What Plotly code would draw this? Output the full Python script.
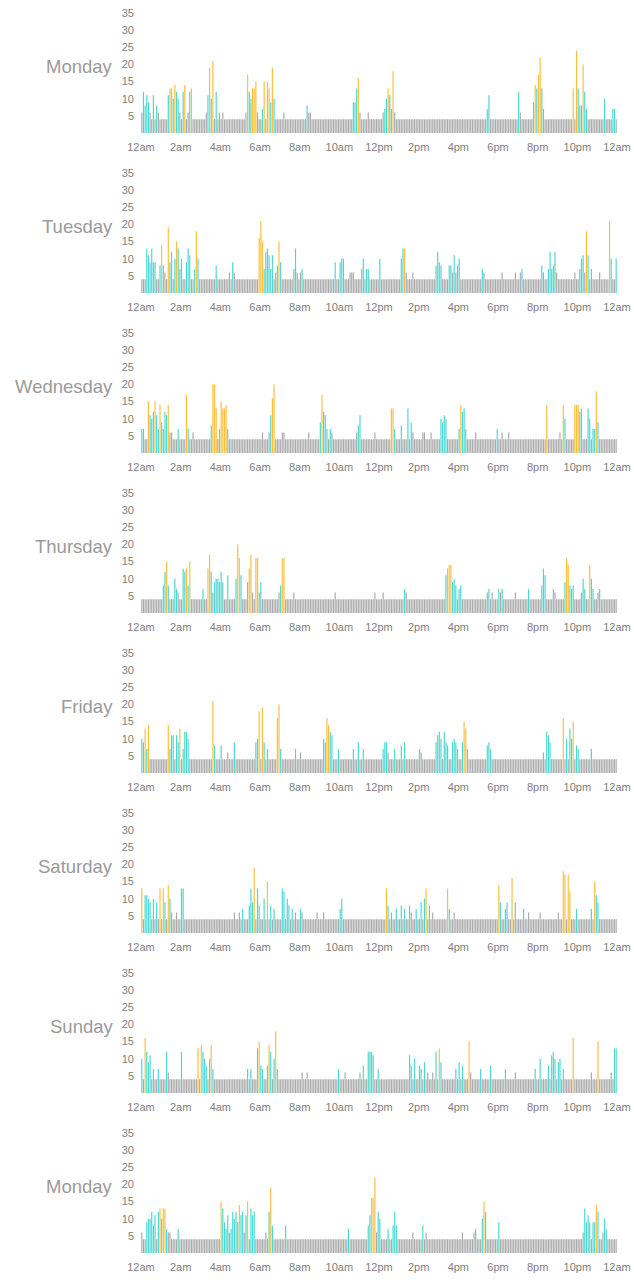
import plotly.graph_objects as go

# ---------------- data ----------------
DAY_NAMES = ["Monday", "Tuesday", "Wednesday", "Thursday", "Friday", "Saturday", "Sunday", "Monday"]
X_TICK_LABELS = ["12am", "2am", "4am", "6am", "8am", "10am", "12pm", "2pm", "4pm", "6pm", "8pm", "10pm", "12am"]
Y_TICKS = [5, 10, 15, 20, 25, 30, 35]
SLOTS_PER_HOUR = 12  # 5-minute slots

# values per 5-minute slot, one row per hour
MON1 = [
    [6,12,8,11,9,6,4,11,4,8,6,4],
    [4,4,4,4,11,13,13,10,14,12,10,6],
    [4,12,14,4,6,12,13,4,4,4,4,4],
    [4,4,4,6,11,19,10,21,4,12,4,6],
    [4,6,4,4,4,4,4,4,4,4,4,4],
    [4,4,4,6,17,12,10,13,13,15,6,4],
    [4,7,15,4,15,13,9,19,10,4,4,4],
    [4,4,6,4,4,4,4,4,4,4,4,4],
    [4,4,4,4,8,6,6,4,4,4,4,4],
    [4,4,4,4,4,4,4,4,4,4,4,4],
    [4,4,4,4,4,4,4,4,9,9,13,16],
    [6,4,4,4,4,6,4,4,4,4,4,4],
    [4,4,6,7,10,13,11,7,18,6,4,4],
    [4,4,4,4,4,4,4,4,4,4,4,4],
    [4,4,4,4,4,4,4,4,4,4,4,4],
    [4,4,4,4,4,4,4,4,4,4,4,4],
    [4,4,4,4,4,4,4,4,4,4,4,4],
    [4,4,4,4,4,7,11,4,4,4,4,4],
    [4,4,4,4,4,4,4,4,4,4,4,4],
    [12,6,4,4,4,4,4,4,4,9,14,13],
    [17,22,13,7,4,4,4,4,4,4,4,4],
    [4,4,4,4,4,4,4,4,4,13,4,24],
    [13,8,8,20,12,7,4,4,4,4,4,4],
    [4,4,4,4,10,4,4,4,4,7,7,4],
]
MON1_HIGH = [17,18,20,26,30,41,43,64,67,68,69,74,76,77,79,131,149,152,238,240,241,261,263,267]

TUE = [
    [4,4,4,13,11,9,13,9,9,4,4,8],
    [14,8,6,4,19,9,12,4,10,15,13,7],
    [10,4,4,9,13,11,4,4,7,18,10,4],
    [4,4,4,4,4,4,4,4,4,8,4,4],
    [4,4,4,4,4,6,4,9,6,4,4,4],
    [4,4,4,4,4,4,4,4,4,4,4,16],
    [21,15,7,12,13,11,7,11,4,6,8,15],
    [9,4,4,4,4,4,4,4,7,13,6,4],
    [6,7,4,4,4,4,4,4,4,4,4,4],
    [4,4,4,4,4,4,4,4,4,9,4,4],
    [9,10,10,4,4,4,6,6,6,4,4,4],
    [4,7,10,4,7,7,4,4,4,4,4,4],
    [10,4,4,4,4,4,4,4,4,4,4,4],
    [4,10,13,13,6,4,4,4,6,4,4,4],
    [4,4,4,4,4,4,4,4,4,4,8,12],
    [9,8,4,4,4,4,8,8,6,11,6,8],
    [10,4,4,4,4,4,4,4,4,4,4,4],
    [4,4,7,6,4,4,4,4,4,4,4,4],
    [4,4,6,4,4,4,4,4,4,4,6,4],
    [4,6,7,4,4,4,4,4,4,4,4,4],
    [4,4,8,6,4,4,7,12,7,8,12,6],
    [4,4,4,4,4,4,4,4,4,4,6,4],
    [4,7,10,11,6,18,11,4,7,4,4,4],
    [4,6,4,4,4,4,4,21,10,4,4,10],
]
TUE_HIGH = [12,16,21,33,71,72,73,83,159,269,283]

WED = [
    [7,7,4,4,15,11,10,12,15,11,7,14],
    [9,7,12,11,14,6,6,4,4,4,7,4],
    [4,4,4,17,7,4,4,6,4,4,4,4],
    [4,4,4,4,4,4,8,20,20,13,4,7],
    [15,13,13,14,7,4,4,4,4,4,4,4],
    [4,4,4,4,4,4,4,4,4,4,4,4],
    [4,6,4,4,4,6,11,16,20,4,4,4],
    [4,6,6,4,4,4,4,4,4,4,4,4],
    [4,4,4,4,4,6,4,4,4,4,4,4],
    [9,17,12,11,7,4,7,6,4,4,4,4],
    [4,4,4,4,4,4,4,4,4,4,6,8],
    [11,4,4,4,4,4,4,4,4,6,4,4],
    [4,4,4,4,4,4,4,13,13,7,4,4],
    [4,8,4,4,4,13,4,9,6,4,4,4],
    [4,4,6,6,4,4,4,6,4,4,4,4],
    [4,10,9,11,10,4,4,4,4,4,4,4],
    [7,14,12,13,7,4,4,4,4,4,6,4],
    [4,4,4,4,4,4,4,4,4,4,4,7],
    [4,4,6,4,4,4,6,4,4,4,4,4],
    [4,4,4,4,4,4,4,4,4,4,4,4],
    [4,4,4,4,4,14,4,4,4,4,4,4],
    [4,6,4,14,10,4,4,4,4,4,14,14],
    [14,12,13,4,4,4,13,10,4,7,7,18],
    [9,4,4,4,4,4,4,4,4,4,4,4],
]
WED_HIGH = [4,8,11,16,27,43,44,45,48,49,50,51,79,80,109,151,152,193,245,255,262,263,264,275]

THU = [
    [4,4,4,4,4,4,4,4,4,4,4,4],
    [4,8,12,15,8,4,4,4,10,7,6,4],
    [4,13,12,13,8,15,4,4,4,4,4,4],
    [4,7,4,4,13,17,12,6,9,10,10,9],
    [12,9,4,4,11,4,4,4,4,10,20,16],
    [11,4,4,4,9,13,17,6,4,16,16,6],
    [9,4,4,4,4,4,4,4,4,4,4,6],
    [8,16,16,4,4,4,4,4,6,4,4,4],
    [4,4,4,4,4,4,4,4,4,4,4,4],
    [4,4,4,4,4,4,4,4,4,6,4,4],
    [4,4,4,4,4,4,4,4,4,4,4,4],
    [4,4,4,4,4,4,4,4,4,6,4,4],
    [4,4,6,4,4,4,4,4,4,4,4,4],
    [4,4,4,7,6,4,4,4,4,4,4,4],
    [4,4,4,4,4,4,4,4,4,4,4,4],
    [4,4,4,4,11,13,14,14,9,10,8,4],
    [7,8,4,4,4,4,4,4,4,4,4,4],
    [4,4,4,4,4,6,7,4,6,4,4,4],
    [7,6,7,4,4,4,4,4,4,4,6,4],
    [4,4,4,4,4,4,7,4,4,4,4,4],
    [4,4,8,13,11,4,4,4,4,7,6,4],
    [4,4,4,4,9,16,14,8,7,8,4,4],
    [4,4,6,10,7,4,4,14,10,7,4,4],
    [6,7,4,4,4,4,4,4,4,4,4,4],
]
THU_HIGH = [15,27,29,40,41,58,59,65,66,69,70,85,86,185,186,187,257,258,271]

FRI = [
    [10,9,13,7,14,4,4,4,4,4,4,4],
    [4,4,4,4,14,7,11,11,4,11,9,13],
    [4,7,12,12,10,4,4,4,4,4,4,4],
    [4,4,4,4,4,4,4,21,8,4,4,4],
    [8,4,4,4,6,4,4,4,9,4,4,4],
    [4,4,4,4,4,4,4,4,4,9,10,18],
    [4,19,9,4,7,4,4,4,4,4,16,20],
    [7,4,4,4,4,4,4,4,4,7,4,4],
    [6,4,4,4,4,4,4,4,4,4,4,4],
    [4,4,10,9,16,14,12,11,4,4,4,7],
    [4,4,4,4,4,4,4,4,7,4,4,9],
    [4,4,7,4,4,4,4,4,4,4,4,4],
    [4,4,7,9,9,6,4,4,4,7,4,4],
    [4,8,4,9,4,4,4,4,4,4,4,4],
    [7,6,4,4,4,4,4,4,4,4,9,11],
    [12,10,4,12,9,8,4,4,9,10,9,7],
    [4,4,9,15,13,7,4,4,4,4,4,4],
    [4,4,4,4,4,8,9,7,4,4,4,4],
    [4,4,4,4,4,4,4,4,4,4,4,4],
    [4,4,4,4,4,4,4,4,4,4,4,4],
    [4,4,4,6,4,12,11,9,4,4,4,4],
    [4,4,4,16,4,10,4,13,10,15,4,8],
    [7,4,4,4,4,4,4,4,7,4,4,4],
    [4,4,4,4,4,4,4,4,4,4,4,4],
]
FRI_HIGH = [2,4,16,23,43,71,73,82,83,112,113,195,196,255,261]

SAT = [
    [13,4,11,11,10,9,4,10,4,9,4,13],
    [4,13,9,4,14,10,6,4,4,6,4,4],
    [13,13,4,4,4,4,4,4,4,4,4,4],
    [4,4,4,4,4,4,4,4,4,4,4,4],
    [4,4,4,4,4,4,4,4,6,4,4,6],
    [4,7,4,4,4,8,13,9,19,4,13,8],
    [4,4,10,4,15,4,8,4,7,4,4,4],
    [4,13,12,4,10,8,4,7,4,6,4,4],
    [7,6,4,4,4,4,4,4,4,4,6,4],
    [4,4,6,4,4,4,4,4,4,4,4,4],
    [7,10,4,4,4,4,4,4,4,4,4,4],
    [4,4,4,4,4,4,4,4,4,4,4,4],
    [4,4,4,4,13,8,4,6,4,4,7,4],
    [4,8,4,7,4,4,8,6,4,4,7,4],
    [4,9,4,10,13,4,8,4,6,4,4,4],
    [4,4,4,4,4,13,7,4,4,6,4,4],
    [4,4,4,4,4,4,4,4,4,4,4,4],
    [4,4,4,4,4,4,4,4,4,4,4,4],
    [14,9,4,4,7,9,4,4,16,4,9,4],
    [4,4,4,7,4,4,6,4,4,4,4,4],
    [4,6,4,4,4,4,4,4,4,4,4,4],
    [6,4,4,18,17,4,17,12,4,4,4,7],
    [4,4,4,4,4,4,4,4,7,4,15,11],
    [9,4,4,4,4,4,4,4,4,4,4,4],
]
SAT_HIGH = [0,11,13,16,68,76,148,172,185,216,224,255,256,258,259,274]

SUN = [
    [10,4,16,12,9,11,4,7,4,4,7,4],
    [4,4,4,12,6,4,4,4,4,4,4,4],
    [12,4,4,4,4,4,4,4,4,4,13,4],
    [14,12,10,8,4,10,14,7,4,4,4,4],
    [4,4,4,4,4,4,4,4,4,4,4,4],
    [4,4,4,4,7,4,7,4,4,4,13,15],
    [8,7,4,4,8,14,12,4,10,18,7,4],
    [4,4,4,4,4,4,4,4,4,4,4,4],
    [4,6,4,4,6,4,4,4,4,4,4,4],
    [4,4,4,4,4,4,4,4,4,4,4,7],
    [4,4,4,6,4,4,4,4,4,4,4,4],
    [6,4,8,4,4,12,12,12,11,4,4,7],
    [4,4,4,4,4,4,4,4,4,4,4,4],
    [4,4,4,4,4,4,11,8,4,10,4,4],
    [8,7,4,9,4,6,4,4,6,4,12,4],
    [13,9,4,4,4,4,4,4,4,4,7,4],
    [9,4,8,4,4,4,15,6,4,4,4,4],
    [4,7,4,4,4,4,4,8,4,4,4,4],
    [4,4,4,4,7,4,4,4,4,4,6,4],
    [4,4,4,4,4,4,4,4,4,4,7,4],
    [4,10,4,4,4,4,8,4,11,12,10,4],
    [9,10,4,7,4,4,4,4,4,16,4,4],
    [4,4,4,4,4,4,4,4,6,4,4,4],
    [15,4,4,4,4,4,4,4,6,4,13,13],
]
SUN_HIGH = [2,34,36,42,71,77,81,180,198,261,276]

MON2 = [
    [6,4,4,9,10,10,12,8,11,4,12,13],
    [10,13,13,7,6,6,4,4,4,4,7,4],
    [4,4,4,4,4,4,4,4,4,4,4,4],
    [4,4,4,4,4,4,4,4,4,4,4,4],
    [15,13,9,7,11,6,7,12,10,12,9,14],
    [11,12,6,11,15,4,13,11,12,4,4,4],
    [4,4,4,6,4,12,19,8,4,4,4,4],
    [4,4,4,8,4,4,4,4,4,4,4,4],
    [4,4,4,4,4,4,4,4,4,4,4,4],
    [4,4,4,4,4,4,4,4,4,4,4,4],
    [4,4,4,4,4,7,4,4,4,4,4,4],
    [4,4,4,4,4,8,11,16,16,22,6,12],
    [10,4,4,4,4,7,4,4,8,12,8,4],
    [4,4,4,4,4,4,4,4,6,4,4,4],
    [4,4,8,4,6,4,4,4,4,4,4,4],
    [4,4,4,4,4,4,4,4,4,4,4,4],
    [4,4,6,4,4,4,4,4,4,6,7,4],
    [4,4,10,15,12,4,4,4,4,4,4,4],
    [9,4,4,4,4,4,4,4,4,4,4,4],
    [4,4,4,4,4,4,4,4,4,4,4,4],
    [4,4,4,4,4,4,4,4,4,4,4,4],
    [4,4,4,4,4,4,4,4,4,4,4,4],
    [4,4,4,6,13,9,11,9,4,9,9,14],
    [12,4,4,6,10,7,4,4,4,4,4,4],
]
MON2_HIGH = [11,13,14,48,59,64,78,139,140,141,207,275]

DAYS = [
    (DAY_NAMES[0], MON1, MON1_HIGH),
    (DAY_NAMES[1], TUE, TUE_HIGH),
    (DAY_NAMES[2], WED, WED_HIGH),
    (DAY_NAMES[3], THU, THU_HIGH),
    (DAY_NAMES[4], FRI, FRI_HIGH),
    (DAY_NAMES[5], SAT, SAT_HIGH),
    (DAY_NAMES[6], SUN, SUN_HIGH),
    (DAY_NAMES[7], MON2, MON2_HIGH),
]

# ---------------- style ----------------
# alpha slightly below 1 makes plotly snap bars to whole pixels (thin striped bars)
GRAY = "rgba(168,168,168,0.99)"
CYAN = "rgba(72,214,208,0.99)"
ORANGE = "rgba(255,187,56,0.99)"
FONT = "Liberation Sans, Arial, sans-serif"
W, H = 634, 1288
ML, MR = 141, 17
PITCH = 160
BASE0 = 133
Y_MAX = 36
PX_PER_UNIT = 3.43

fig = go.Figure()
annotations = []
layout = {}
n_slots = 24 * SLOTS_PER_HOUR
for k, (name, rows, high) in enumerate(DAYS):
    vals = [v for row in rows for v in row]
    high_set = set(high)
    colors = []
    for i, v in enumerate(vals):
        if i in high_set:
            colors.append(ORANGE)
        elif v >= 7:
            colors.append(CYAN)
        else:
            colors.append(GRAY)
    ax = "" if k == 0 else str(k + 1)
    fig.add_trace(go.Bar(
        x=[i + 0.5 for i in range(len(vals))], y=vals,
        marker=dict(color=colors, line=dict(width=0)),
        xaxis="x" + ax, yaxis="y" + ax, showlegend=False, hoverinfo="skip",
    ))
    bottom_px = BASE0 + PITCH * k
    top_px = bottom_px - Y_MAX * PX_PER_UNIT
    layout["xaxis" + ax] = dict(
        domain=[0, 1], anchor="y" + ax, range=[0, n_slots],
        tickvals=[i * 2 * SLOTS_PER_HOUR for i in range(len(X_TICK_LABELS))],
        ticktext=X_TICK_LABELS, showgrid=False, zeroline=False, showline=False,
        ticks="", tickfont=dict(size=11, color="#808080", family=FONT),
        ticklabelstandoff=6, fixedrange=True, automargin=False,
    )
    layout["yaxis" + ax] = dict(
        domain=[1 - bottom_px / H, 1 - top_px / H], anchor="x" + ax,
        range=[0, Y_MAX], tickvals=Y_TICKS, showgrid=False, zeroline=False,
        showline=False, ticks="", tickfont=dict(size=11, color="#808080", family=FONT),
        ticklabelstandoff=6, fixedrange=True, automargin=False,
    )
    annotations.append(dict(
        text=name, xref="paper", yref="y" + ax, x=(115 - ML) / (W - ML - MR), y=19.4,
        xanchor="right", yanchor="middle", showarrow=False,
        font=dict(size=18.5, color="#9a9a9a", family=FONT),
    ))

fig.update_layout(
    width=W, height=H, margin=dict(l=ML, r=MR, t=0, b=0),
    paper_bgcolor="white", plot_bgcolor="white",
    bargap=0.3, barmode="overlay",
    annotations=annotations, font=dict(family=FONT),
    **layout,
)
fig.write_html("out.html")
